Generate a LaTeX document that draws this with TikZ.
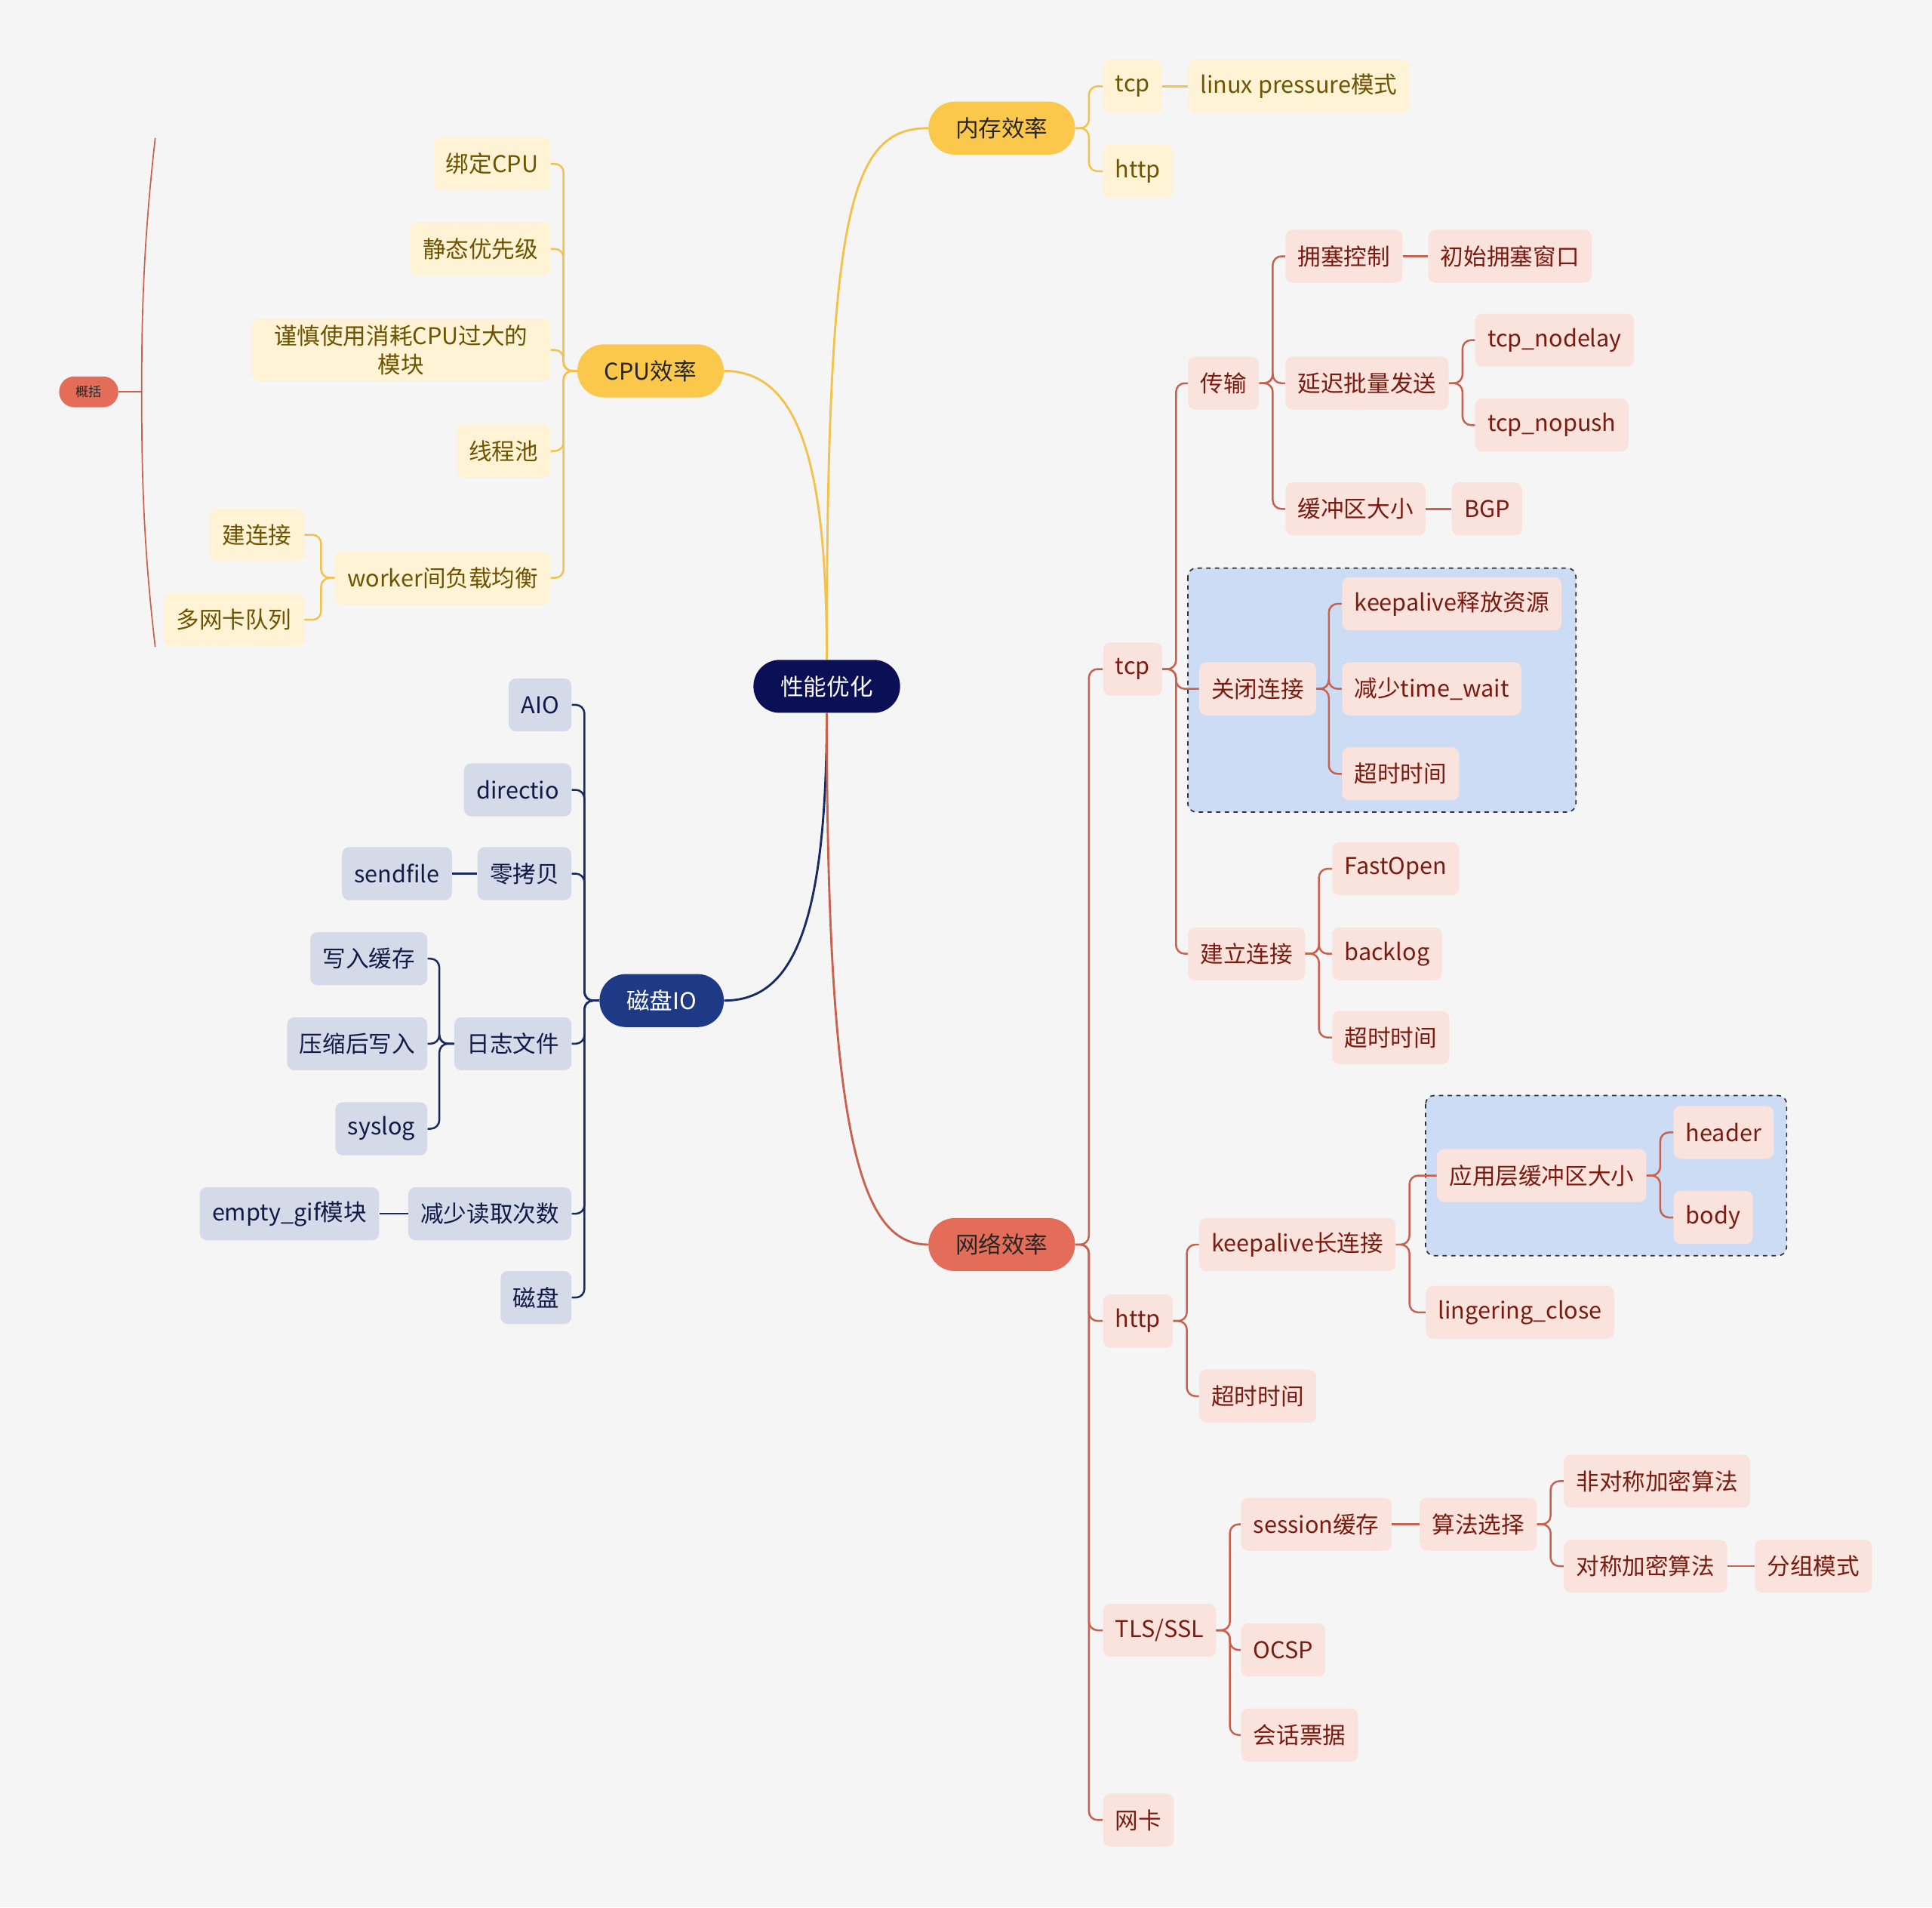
\documentclass[tikz,border=0pt]{standalone}
\usepackage{fontspec}
\setmainfont{Noto Sans CJK SC}

\definecolor{bgc}{HTML}{F5F5F5}
\definecolor{rootc}{HTML}{0B0F55}
\definecolor{ymainc}{HTML}{FCC84B}
\definecolor{ysubc}{HTML}{FFF3D6}
\definecolor{ytext}{HTML}{6E5300}
\definecolor{ylinec}{HTML}{F3C24A}
\definecolor{bmainc}{HTML}{1E3A86}
\definecolor{bsubc}{HTML}{D5DAE8}
\definecolor{btext}{HTML}{101B48}
\definecolor{blinec}{HTML}{182A66}
\definecolor{rmainc}{HTML}{E36D58}
\definecolor{rsubc}{HTML}{FBE3DD}
\definecolor{rtext}{HTML}{7A1B10}
\definecolor{rlinec}{HTML}{C8614D}
\definecolor{groupc}{HTML}{CDDCF5}

\begin{document}
\begin{tikzpicture}[x=0.03cm, y=-0.03cm, font=\fontsize{16}{20}\selectfont]
    % Node styles
    \tikzstyle{main node}=[rounded corners=0.64cm, minimum height=1.29cm, inner xsep=0.66cm, inner ysep=0pt]
    \tikzstyle{sub node}=[rounded corners=5pt, minimum height=1.29cm, inner xsep=0.3cm, inner ysep=4pt, align=center]
    \tikzstyle{root node}=[main node, fill=rootc, text=white]
    \tikzstyle{ymain}=[main node, fill=ymainc, text=black!85]
    \tikzstyle{bmain}=[main node, fill=bmainc, text=white]
    \tikzstyle{rmain}=[main node, fill=rmainc, text=black!85]
    \tikzstyle{ysub}=[sub node, fill=ysubc, text=ytext]
    \tikzstyle{bsub}=[sub node, fill=bsubc, text=btext]
    \tikzstyle{rsub}=[sub node, fill=rsubc, text=rtext]
    % Connector styles
    \tikzstyle{ybig}=[ylinec, line width=1.5pt]
    \tikzstyle{bbig}=[blinec, line width=1.5pt]
    \tikzstyle{rbig}=[rlinec, line width=1.5pt]
    \tikzstyle{yline}=[ylinec, line width=1.3pt, rounded corners=6pt]
    \tikzstyle{bline}=[blinec, line width=1.3pt, rounded corners=6pt]
    \tikzstyle{rline}=[rlinec, line width=1.3pt, rounded corners=6pt]
    \tikzstyle{group box}=[fill=groupc, draw=black!80, dashed, line width=0.9pt, rounded corners=6pt]

    % Background and margins
    \fill[bgc] (0,0) rectangle (1568,1548);
    \useasboundingbox (0,0) rectangle (1568,1548);

    % Dashed groups (drawn first, behind the nodes)
    \draw[group box] (964,461) rectangle (1279,659);
    \draw[group box] (1157,889) rectangle (1450,1019);

    % --- Centre and main branches ---
    \node[root node] (perf) at (671,557) {性能优化};
    \node[ymain] (mem) at (813,104) {内存效率};
    \node[ymain] (cpu) at (528,301) {CPU效率};
    \node[bmain] (disk) at (537,812) {磁盘IO};
    \node[rmain] (net) at (813,1010) {网络效率};

    \draw[ybig] (perf.north) .. controls (671,170) and (690,104) .. (mem.west);
    \draw[ybig] (perf.north) .. controls (671,380) and (650,301) .. (cpu.east);
    \draw[bbig] (perf.south) .. controls (671,760) and (640,812) .. (disk.east);
    \draw[rbig] (perf.south) .. controls (671,930) and (700,1010) .. (net.west);

    % --- Memory ---
    \node[ysub, anchor=west] (memtcp) at (895,70) {tcp};
    \node[ysub, anchor=west] (memhttp) at (895,139) {http};
    \node[ysub, anchor=west] (linuxp) at (964,70) {linux pressure模式};

    \foreach \c in {memtcp,memhttp}
        \draw[yline] (mem.east) -- ++(11,0) |- (\c.west);
    \draw[yline] (memtcp.east) -- (linuxp.west);

    % --- CPU ---
    \node[ysub, anchor=east] (bind) at (447,133) {绑定CPU};
    \node[ysub, anchor=east] (prio) at (447,202) {静态优先级};
    \node[ysub, anchor=east, inner xsep=0.55cm] (careful) at (447,284) {谨慎使用消耗CPU过大的\\模块};
    \node[ysub, anchor=east] (pool) at (447,366) {线程池};
    \node[ysub, anchor=east] (worker) at (447,469) {worker间负载均衡};
    \node[ysub, anchor=east] (conn) at (247,434) {建连接};
    \node[ysub, anchor=east] (nicq) at (247,503) {多网卡队列};

    \foreach \c in {bind,prio,careful,pool,worker}
        \draw[yline] (cpu.west) -- ++(-11,0) |- (\c.east);
    \foreach \c in {conn,nicq}
        \draw[yline] (worker.west) -- ++(-11,0) |- (\c.east);

    % Summary bracket
    \node[rmain, rounded corners=0.37cm, inner xsep=2pt, minimum width=1.44cm, minimum height=0.75cm,
          font=\fontsize{9}{11}\selectfont] (summ) at (72,318) {概括};
    \draw[rlinec, line width=0.9pt] (126,112) .. controls (116,200) and (115,260) .. (115,318)
        .. controls (115,380) and (116,440) .. (126,525);
    \draw[rlinec, line width=0.9pt] (summ.east) -- (115,318);

    % --- Disk IO ---
    \node[bsub, anchor=east] (aio) at (464,572) {AIO};
    \node[bsub, anchor=east] (directio) at (464,641) {directio};
    \node[bsub, anchor=east] (zcopy) at (464,709) {零拷贝};
    \node[bsub, anchor=east] (logf) at (464,847) {日志文件};
    \node[bsub, anchor=east] (reduce) at (464,985) {减少读取次数};
    \node[bsub, anchor=east] (dsk) at (464,1053) {磁盘};
    \node[bsub, anchor=east] (sendfile) at (367,709) {sendfile};
    \node[bsub, anchor=east] (wcache) at (347,778) {写入缓存};
    \node[bsub, anchor=east] (compress) at (347,847) {压缩后写入};
    \node[bsub, anchor=east] (syslog) at (347,916) {syslog};
    \node[bsub, anchor=east] (emptygif) at (308,985) {empty\_gif模块};

    \foreach \c in {aio,directio,zcopy,logf,reduce,dsk}
        \draw[bline] (disk.west) -- ++(-12,0) |- (\c.east);
    \draw[bline] (zcopy.west) -- (sendfile.east);
    \foreach \c in {wcache,compress,syslog}
        \draw[bline] (logf.west) -- ++(-12,0) |- (\c.east);
    \draw[bline] (reduce.west) -- (emptygif.east);

    % --- Network ---
    \node[rsub, anchor=west] (ntcp) at (895,543) {tcp};
    \node[rsub, anchor=west] (nhttp) at (895,1072) {http};
    \node[rsub, anchor=west] (tls) at (895,1323) {TLS/SSL};
    \node[rsub, anchor=west] (nic) at (895,1477) {网卡};

    \foreach \c in {ntcp,nhttp,tls,nic}
        \draw[rline] (net.east) -- ++(11,0) |- (\c.west);

    % tcp
    \node[rsub, anchor=west] (trans) at (964,311) {传输};
    \node[rsub, anchor=west] (closec) at (973,559) {关闭连接};
    \node[rsub, anchor=west] (estab) at (964,774) {建立连接};
    \foreach \c in {trans,closec,estab}
        \draw[rline] (ntcp.east) -- ++(11,0) |- (\c.west);

    \node[rsub, anchor=west] (cong) at (1043,208) {拥塞控制};
    \node[rsub, anchor=west] (delay) at (1043,311) {延迟批量发送};
    \node[rsub, anchor=west] (buf) at (1043,413) {缓冲区大小};
    \node[rsub, anchor=west] (initw) at (1159,208) {初始拥塞窗口};
    \node[rsub, anchor=west] (nodelay) at (1197,276) {tcp\_nodelay};
    \node[rsub, anchor=west] (nopush) at (1197,345) {tcp\_nopush};
    \node[rsub, anchor=west] (bgp) at (1178,413) {BGP};
    \foreach \c in {cong,delay,buf}
        \draw[rline] (trans.east) -- ++(11,0) |- (\c.west);
    \draw[rline] (cong.east) -- (initw.west);
    \foreach \c in {nodelay,nopush}
        \draw[rline] (delay.east) -- ++(11,0) |- (\c.west);
    \draw[rline] (buf.east) -- (bgp.west);

    \node[rsub, anchor=west] (kafree) at (1089,490) {keepalive释放资源};
    \node[rsub, anchor=west] (twait) at (1089,559) {减少time\_wait};
    \node[rsub, anchor=west] (ctimeo) at (1089,628) {超时时间};
    \foreach \c in {kafree,twait,ctimeo}
        \draw[rline] (closec.east) -- ++(10,0) |- (\c.west);

    \node[rsub, anchor=west] (fastopen) at (1081,705) {FastOpen};
    \node[rsub, anchor=west] (backlog) at (1081,774) {backlog};
    \node[rsub, anchor=west] (etimeo) at (1081,842) {超时时间};
    \foreach \c in {fastopen,backlog,etimeo}
        \draw[rline] (estab.east) -- ++(11,0) |- (\c.west);

    % http
    \node[rsub, anchor=west] (keepal) at (973,1010) {keepalive长连接};
    \node[rsub, anchor=west] (htimeo) at (973,1133) {超时时间};
    \foreach \c in {keepal,htimeo}
        \draw[rline] (nhttp.east) -- ++(11,0) |- (\c.west);

    \node[rsub, anchor=west] (appbuf) at (1166,954) {应用层缓冲区大小};
    \node[rsub, anchor=west] (linger) at (1157,1065) {lingering\_close};
    \node[rsub, anchor=west] (header) at (1358,919) {header};
    \node[rsub, anchor=west] (body) at (1358,988) {body};
    \foreach \c in {appbuf,linger}
        \draw[rline] (keepal.east) -- ++(11,0) |- (\c.west);
    \foreach \c in {header,body}
        \draw[rline] (appbuf.east) -- ++(11,0) |- (\c.west);

    % TLS/SSL
    \node[rsub, anchor=west] (sess) at (1007,1237) {session缓存};
    \node[rsub, anchor=west] (ocsp) at (1007,1339) {OCSP};
    \node[rsub, anchor=west] (ticket) at (1007,1408) {会话票据};
    \node[rsub, anchor=west] (algo) at (1152,1237) {算法选择};
    \node[rsub, anchor=west] (asym) at (1269,1202) {非对称加密算法};
    \node[rsub, anchor=west] (sym) at (1269,1271) {对称加密算法};
    \node[rsub, anchor=west] (block) at (1424,1271) {分组模式};
    \foreach \c in {sess,ocsp,ticket}
        \draw[rline] (tls.east) -- ++(11,0) |- (\c.west);
    \draw[rline] (sess.east) -- (algo.west);
    \foreach \c in {asym,sym}
        \draw[rline] (algo.east) -- ++(11,0) |- (\c.west);
    \draw[rline] (sym.east) -- (block.west);

\end{tikzpicture}
\end{document}
